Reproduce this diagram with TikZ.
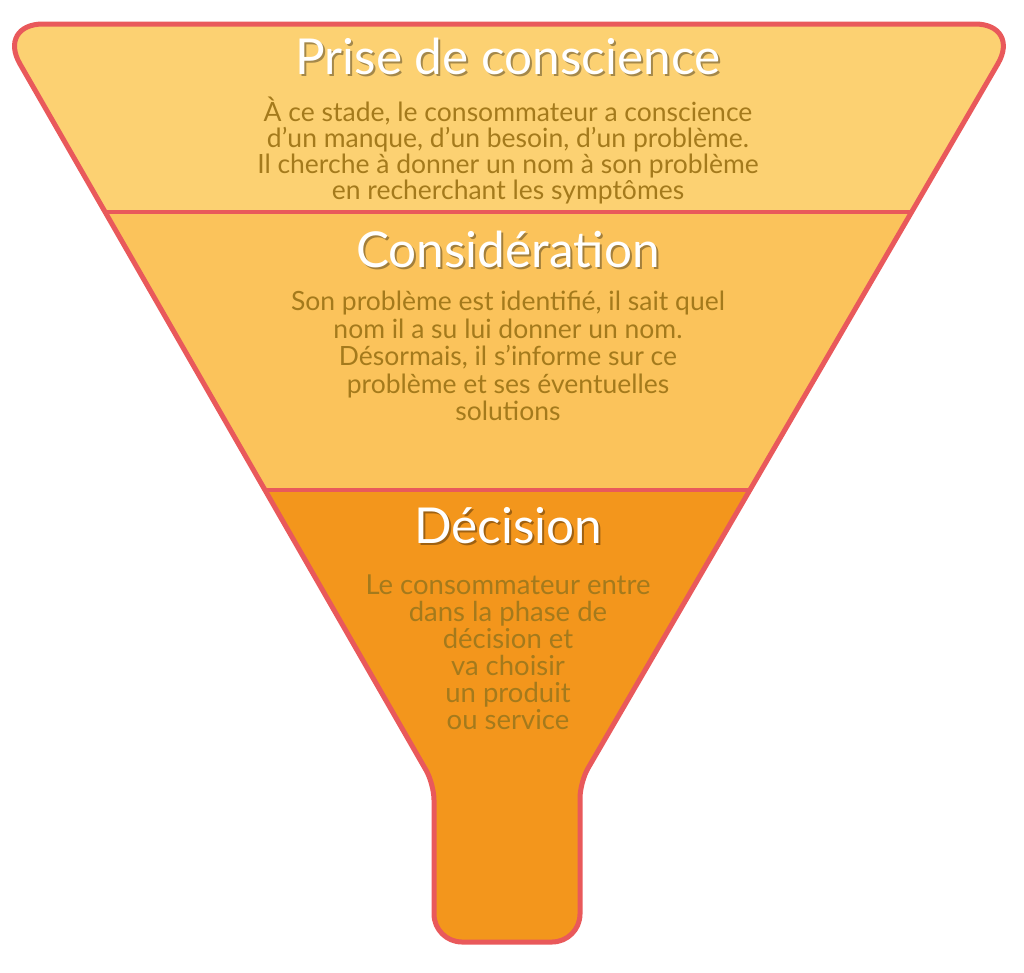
\documentclass[tikz,border=0pt]{standalone}
\usepackage{fontspec}
\setmainfont{Lato}
\definecolor{edge}{HTML}{E9595B}
\definecolor{fillA}{HTML}{FCD172}
\definecolor{fillB}{HTML}{FBC35B}
\definecolor{fillC}{HTML}{F3961C}
\definecolor{txt}{HTML}{A47A1C}
\newcommand\shadowtitle[2]{\makebox[0pt][l]{\hspace{2pt}\raisebox{-2pt}{\textcolor{#1}{#2}}}#2}
\tikzset{
  title/.style={text=white, font=\fontsize{49.5}{52}\selectfont, inner sep=0pt},
  body/.style={text=txt, align=center, inner sep=0pt, font=\fontsize{26.5}{26}\selectfont},
  divider/.style={draw=edge, line width=4.5pt},
}
\begin{document}
\begin{tikzpicture}[x=1pt,y=-1pt]
\useasboundingbox (0,0) rectangle (1024,972);
\def\funnel{(508,24) [rounded corners=46pt] -- (-3,24) [rounded corners=16pt] -- (434,784) [rounded corners=28pt] -- (434,942) -- (580,942) [rounded corners=16pt] -- (580,782) [rounded corners=46pt] -- (1021,24) -- (508,24)}
\begin{scope}
  \clip \funnel;
  \fill[fillA] (0,0) rectangle (1024,212);
  \fill[fillB] (0,212) rectangle (1024,490);
  \fill[fillC] (0,490) rectangle (1024,972);
  \draw[divider] (0,212) -- (1024,212);
  \draw[divider] (0,490) -- (1024,490);
\end{scope}
\draw[edge, line width=5pt] (508,24) [rounded corners=46pt] -- (-3,24) [rounded corners=16pt] -- (434,784) [rounded corners=28pt] -- (434,942) -- (580,942) [rounded corners=16pt] -- (580,782) [rounded corners=46pt] -- (1021,24) -- cycle;

\node[title] (t1) at (508,57) {\shadowtitle{fillA!65!black}{Prise de conscience}};
\node[body] (b1) at (508,150) {À ce stade, le consommateur a conscience\\d’un manque, d’un besoin, d’un problème.\\Il cherche à donner un nom à son problème\\en recherchant les symptômes};

\node[title] (t2) at (508,250) {\shadowtitle{fillB!65!black}{Considération}};
\node[body, font=\fontsize{26.5}{27.5}\selectfont] (b2) at (508,356) {Son problème est identifié, il sait quel\\nom il a su lui donner un nom.\\Désormais, il s’informe sur ce\\problème et ses éventuelles\\solutions};

\node[title] (t3) at (508,527) {\shadowtitle{fillC!65!black}{Décision}};
\node[body, font=\fontsize{27.5}{27}\selectfont] (b3) at (508,652) {Le consommateur entre\\dans la phase de\\décision et\\va choisir\\un produit\\ou service};
\end{tikzpicture}
\end{document}
